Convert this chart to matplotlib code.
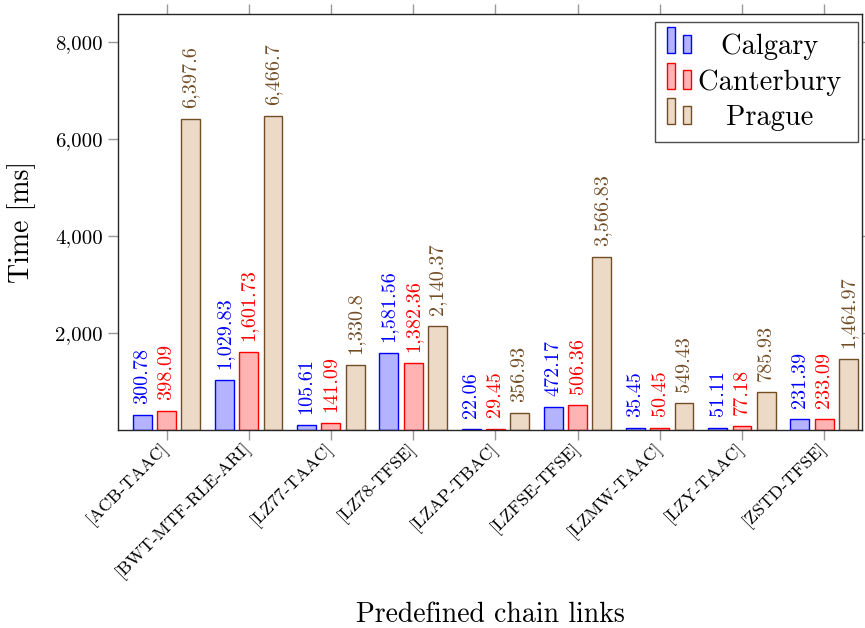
import matplotlib
matplotlib.use("Agg")
import matplotlib.pyplot as plt
import matplotlib.transforms as mtransforms
from matplotlib.patches import Rectangle
from matplotlib.legend_handler import HandlerBase
import numpy as np

# data
categories = ["[ACB-TAAC]", "[BWT-MTF-RLE-ARI]", "[LZ77-TAAC]", "[LZ78-TFSE]",
              "[LZAP-TBAC]", "[LZFSE-TFSE]", "[LZMW-TAAC]", "[LZY-TAAC]", "[ZSTD-TFSE]"]
calgary = [300.78, 1029.83, 105.61, 1581.56, 22.06, 472.17, 35.45, 51.11, 231.39]
canterbury = [398.09, 1601.73, 141.09, 1382.36, 29.45, 506.36, 50.45, 77.18, 233.09]
prague = [6397.6, 6466.7, 1330.8, 2140.37, 356.93, 3566.83, 549.43, 785.93, 1464.97]
series_names = ["Calgary", "Canterbury", "Prague"]
yticks = [2000, 4000, 6000, 8000]

edge_colors = [(0, 0, 1), (1, 0, 0), (0.45, 0.3, 0.15)]
fill_colors = [(0.7, 0.7, 1), (1, 0.7, 0.7), (0.925, 0.85, 0.775)]

plt.rcParams['font.family'] = ['cmr10', 'DejaVu Serif']
plt.rcParams['axes.unicode_minus'] = False


class TwoBarHandler(HandlerBase):
    # pgfplots style legend image: two small bars
    def create_artists(self, legend, orig_handle, xdescent, ydescent,
                       width, height, fontsize, trans):
        fc = orig_handle.get_facecolor()
        ec = orig_handle.get_edgecolor()
        w = width * 0.35
        r1 = Rectangle((-xdescent, -ydescent), w, height * 1.39,
                       facecolor=fc, edgecolor=ec, lw=1, transform=trans)
        r2 = Rectangle((-xdescent + width * 0.67, -ydescent), w * 0.95, height,
                       facecolor=fc, edgecolor=ec, lw=1, transform=trans)
        return [r1, r2]


fig = plt.figure(figsize=(8.65, 6.28), dpi=100)
ax = fig.add_axes([118 / 865, 1 - 430 / 628, (862 - 118) / 865, (430 - 14) / 628])

x = np.arange(len(categories))
offsets = [-0.295, 0.0, 0.295]
bw = 0.23
all_series = [calgary, canterbury, prague]

for vals, off, ec, fc in zip(all_series, offsets, edge_colors, fill_colors):
    ax.bar(x + off, vals, width=bw, facecolor=fc, edgecolor=ec, linewidth=1, zorder=2)
    for xi, v in zip(x + off, vals):
        ax.annotate(f"{v:,.2f}".rstrip("0").rstrip("."), (xi, v), xytext=(0, 8),
                    textcoords="offset points", rotation=90, ha="center", va="bottom",
                    color=ec, fontsize=14.5)

ax.set_xlim(-0.59, 8.46)
ax.set_ylim(0, 8570)
ax.set_xticks(x)
ax.set_xticklabels(categories, rotation=45, ha="right", va="center",
                   rotation_mode="anchor", fontsize=13)
shift = mtransforms.ScaledTranslation(-4 / 72, 0, fig.dpi_scale_trans)
for lab in ax.get_xticklabels():
    lab.set_transform(lab.get_transform() + shift)
ax.set_yticks(yticks)
ax.set_yticklabels([f"{t:,}" for t in yticks], fontsize=15)
ax.tick_params(axis="both", which="both", direction="out", length=7, width=1,
               color="0.6", top=True, right=True)
ax.tick_params(axis="x", pad=4)
ax.tick_params(axis="y", pad=4)
for s in ax.spines.values():
    s.set_color("0.15")
    s.set_linewidth(1)

ax.set_ylabel("Time [ms]", fontsize=20, labelpad=14)
ax.set_xlabel("Predefined chain links", fontsize=20)
ax.xaxis.set_label_coords(0.5, -0.413)

proxies = [Rectangle((0, 0), 1, 1, facecolor=fc, edgecolor=ec)
           for ec, fc in zip(edge_colors, fill_colors)]
leg = ax.legend(proxies, [n + "\u2009" for n in series_names],
                handler_map={Rectangle: TwoBarHandler()},
                loc="upper right", bbox_to_anchor=(858 / 865, 1 - 22 / 628),
                bbox_transform=fig.transFigure, borderaxespad=0, fontsize=20.5,
                handlelength=0.84, handleheight=0.63, handletextpad=0.25,
                labelspacing=0.32, fancybox=False, framealpha=1, edgecolor="0.3",
                borderpad=0.4)
leg.get_frame().set_linewidth(1)

# centre the legend texts in their column like pgfplots does
fig.canvas.draw()
r = fig.canvas.get_renderer()
widths = [t.get_window_extent(r).width for t in leg.get_texts()]
mw = max(widths)
for t, w in zip(leg.get_texts(), widths):
    t.set_position(((mw - w) / 2, 0))

fig.savefig("out.png", dpi=100)
